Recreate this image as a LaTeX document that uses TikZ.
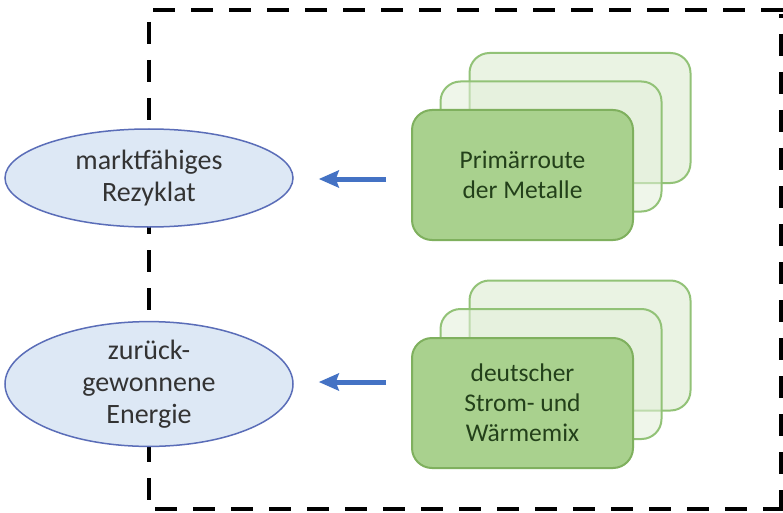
\documentclass[tikz,border=0pt]{standalone}
\usepackage{fontspec}
\setmainfont{Carlito}
\usetikzlibrary{arrows.meta,shapes.geometric}
\definecolor{ellfill}{HTML}{DDE8F5}
\definecolor{elldraw}{HTML}{5A6DB8}
\definecolor{frontfill}{HTML}{A9D18E}
\definecolor{frontdraw}{HTML}{7FB05E}
\definecolor{backfill}{HTML}{E3F0DA}
\definecolor{backdraw}{HTML}{92C277}
\definecolor{arrowblue}{HTML}{4472C4}
\definecolor{greentext}{HTML}{23401A}
\definecolor{graytext}{HTML}{333333}
\tikzset{
  frame/.style={line width=4.5pt, dash pattern=on 22pt off 16pt},
  ell/.style={ellipse, draw=elldraw, fill=ellfill, line width=1.5pt, minimum width=288pt,
    align=center, text=graytext, font=\fontsize{28}{32}\selectfont, inner sep=0pt},
  boxback/.style={rectangle, rounded corners=20pt, draw=backdraw, fill=backfill, fill opacity=0.75,
    line width=2pt, minimum width=221pt, minimum height=130pt},
  boxfront/.style={rectangle, rounded corners=20pt, draw=frontdraw, fill=frontfill,
    line width=2pt, minimum width=221pt, minimum height=130pt, align=center,
    text=greentext, font=\fontsize{25.5}{30}\selectfont},
  arr/.style={draw=arrowblue, line width=5pt, -{Stealth[length=20pt,width=17pt,inset=3pt]},
    shorten >=25pt, shorten <=25pt}
}
\begin{document}
\begin{tikzpicture}[x=1pt,y=-1pt]
\useasboundingbox (0,0) rectangle (783,513);
\fill[white] (0,0) rectangle (783,513);
% dashed frame
\draw[frame] (153,10) -- (783,10);
\draw[frame] (149,22) -- (149,509);
\draw[frame] (155,509) -- (783,509);
\draw[frame,dash phase=-20pt] (781,14) -- (781,509);
% ellipses
\node[ell, minimum height=98pt] (e1) at (149,178) {marktfähiges\\Rezyklat};
\node[ell, minimum height=118pt] (e2) at (149,384) {zurück-\\gewonnene\\Energie};
% stacked boxes 1
\node[boxback] (b1) at (580,118) {};
\node[boxback, fill opacity=0.55] (m1) at (551,146.5) {};
\node[boxfront] (f1) at (522.5,175) {Primärroute\\der Metalle};
% stacked boxes 2
\node[boxback] (b2) at (580,345.5) {};
\node[boxback, fill opacity=0.55] (m2) at (551,374) {};
\node[boxfront] (f2) at (522.5,403) {deutscher\\Strom- und\\Wärmemix};
% arrows
\draw[arr] (f1.west |- 0,179) -- (e1.east |- 0,179);
\draw[arr] (f2.west |- 0,382) -- (e2.east |- 0,382);
\end{tikzpicture}
\end{document}
